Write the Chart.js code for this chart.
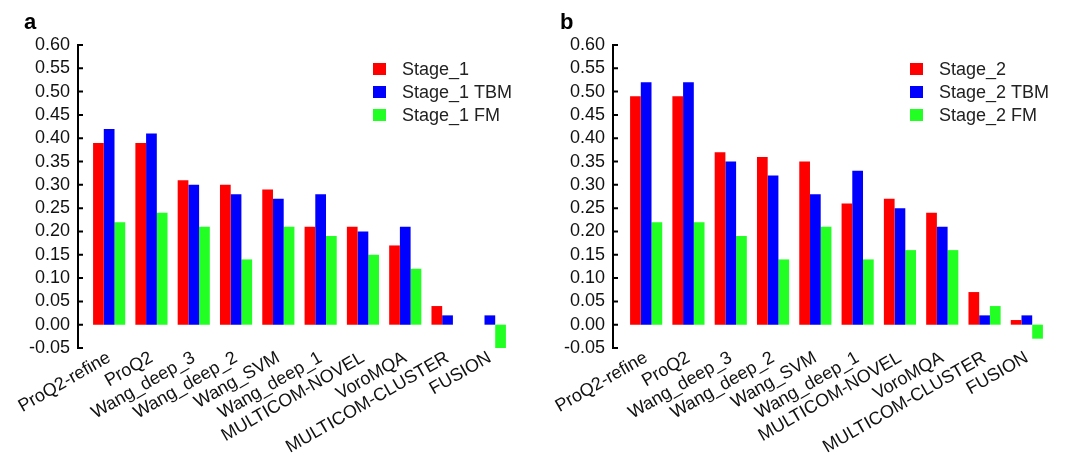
<!DOCTYPE html>
<html>
<head>
<meta charset="utf-8">
<script src="https://cdn.jsdelivr.net/npm/chart.js@4.4.1/dist/chart.umd.min.js"></script>
<style>
  body { margin: 0; background: #fff; }
  .panel { position: absolute; top: 0; width: 535px; height: 458px; }
  #p1 { left: 0; }
  #p2 { left: 534px; }
</style>
</head>
<body>
<div class="panel" id="p1"><canvas id="chartA"></canvas></div>
<div class="panel" id="p2"><canvas id="chartB"></canvas></div>
<script>
const methods = ['ProQ2-refine', 'ProQ2', 'Wang_deep_3', 'Wang_deep_2', 'Wang_SVM', 'Wang_deep_1',
  'MULTICOM-NOVEL', 'VoroMQA', 'MULTICOM-CLUSTER', 'FUSION'];
const yTicks = [-0.05, 0, 0.05, 0.1, 0.15, 0.2, 0.25, 0.3, 0.35, 0.4, 0.45, 0.5, 0.55, 0.6];

// panel a
const stage1 = [0.39, 0.39, 0.31, 0.30, 0.29, 0.21, 0.21, 0.17, 0.04, 0];
const stage1TBM = [0.42, 0.41, 0.30, 0.28, 0.27, 0.28, 0.20, 0.21, 0.02, 0.02];
const stage1FM = [0.22, 0.24, 0.21, 0.14, 0.21, 0.19, 0.15, 0.12, 0, -0.05];

// panel b
const stage2 = [0.49, 0.49, 0.37, 0.36, 0.35, 0.26, 0.27, 0.24, 0.07, 0.01];
const stage2TBM = [0.52, 0.52, 0.35, 0.32, 0.28, 0.33, 0.25, 0.21, 0.02, 0.02];
const stage2FM = [0.22, 0.22, 0.19, 0.14, 0.21, 0.14, 0.16, 0.16, 0.04, -0.03];

const RED = '#ff0000', BLUE = '#0000ff', GREEN = '#22ff22';
const FONT = "'Liberation Sans', Arial, sans-serif";

// y axis line sits a bit left of the bars, ticks point inward
const axisPlugin = {
  id: 'axisLine',
  afterDraw(chart, args, opts) {
    const ctx = chart.ctx, y = chart.scales.y;
    const x0 = chart.chartArea.left - opts.gap;
    ctx.save();
    ctx.strokeStyle = '#000';
    ctx.lineWidth = 2;
    ctx.beginPath();
    ctx.moveTo(x0, y.getPixelForValue(0.6) - 1);
    ctx.lineTo(x0, y.getPixelForValue(-0.05) + 1);
    yTicks.forEach(v => {
      const py = y.getPixelForValue(v);
      ctx.moveTo(x0, py);
      ctx.lineTo(x0 + 5, py);
    });
    ctx.stroke();
    ctx.restore();
  }
};

const legendPlugin = {
  id: 'boxLegend',
  afterDraw(chart, args, opts) {
    const ctx = chart.ctx;
    ctx.save();
    ctx.font = '18px ' + FONT;
    ctx.textBaseline = 'middle';
    chart.data.datasets.forEach((ds, i) => {
      const cy = opts.y + i * 23;
      ctx.fillStyle = ds.backgroundColor;
      ctx.fillRect(opts.x, cy - 6, 13, 12);
      ctx.fillStyle = '#222';
      ctx.fillText(ds.label, opts.x + 29, cy + 1);
    });
    ctx.font = 'bold 22px ' + FONT;
    ctx.fillStyle = '#000';
    ctx.textBaseline = 'alphabetic';
    ctx.fillText(opts.tag, opts.tagX, 29);
    ctx.restore();
  }
};

function makeChart(id, names, series, opt) {
  return new Chart(document.getElementById(id), {
    type: 'bar',
    data: {
      labels: methods,
      datasets: [
        { label: names[0], data: series[0], backgroundColor: RED },
        { label: names[1], data: series[1], backgroundColor: BLUE },
        { label: names[2], data: series[2], backgroundColor: GREEN }
      ]
    },
    options: {
      responsive: true,
      maintainAspectRatio: false,
      animation: false,
      layout: { padding: { left: 0, right: opt.right, top: 45, bottom: 0 } },
      datasets: { bar: { categoryPercentage: 0.76, barPercentage: 1.0 } },
      plugins: {
        legend: { display: false },
        tooltip: { enabled: false },
        axisLine: { gap: opt.gap },
        boxLegend: { x: opt.legX, y: 69, tag: opt.tag, tagX: opt.tagX }
      },
      scales: {
        x: {
          grid: { display: false },
          border: { display: false },
          ticks: {
            color: '#111',
            font: { family: FONT, size: 18 },
            minRotation: 30,
            maxRotation: 30,
            autoSkip: false,
            padding: -9
          },
          afterFit(scale) { scale.height = 458 - 45 - 303; }
        },
        y: {
          min: -0.05,
          max: 0.6,
          grid: { display: false, drawTicks: false },
          border: { display: false },
          ticks: {
            stepSize: 0.05,
            autoSkip: false,
            color: '#111',
            padding: opt.labPad,
            font: { family: FONT, size: 18 },
            callback: v => Number(v).toFixed(2)
          },
          afterFit(scale) { scale.width = opt.left; }
        }
      }
    },
    plugins: [axisPlugin, legendPlugin]
  });
}

makeChart('chartA', ['Stage_1', 'Stage_1 TBM', 'Stage_1 FM'], [stage1, stage1TBM, stage1FM],
  { left: 88, right: 535 - 511, gap: 10, labPad: 18, legX: 373, tag: 'a', tagX: 24 });
makeChart('chartB', ['Stage_2', 'Stage_2 TBM', 'Stage_2 FM'], [stage2, stage2TBM, stage2FM],
  { left: 625 - 534, right: 535 - (1048 - 534), gap: 12, labPad: 20, legX: 910 - 534, tag: 'b', tagX: 560 - 534 });
</script>
</body>
</html>
